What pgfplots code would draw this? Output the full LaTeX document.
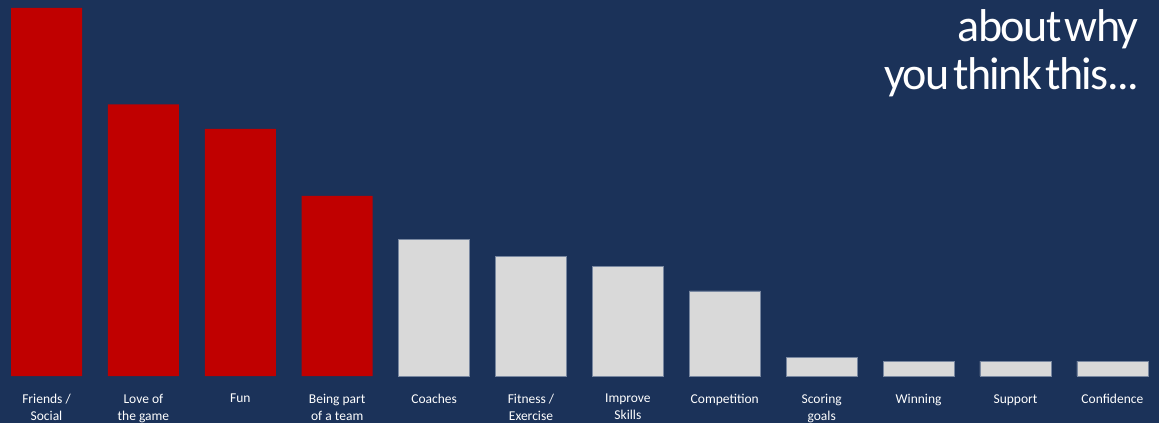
\documentclass[border=0pt]{standalone}
\usepackage{fontspec}
\setmainfont{Carlito}
\newfontfamily\titlefont[LetterSpace=-3.5,WordSpace=0.4]{Carlito}
\usepackage{pgfplots}
\pgfplotsset{compat=1.18}
\definecolor{bg}{RGB}{27,50,89}
\definecolor{barred}{RGB}{192,0,0}
\definecolor{bargrey}{RGB}{217,217,217}
\definecolor{edge}{RGB}{120,135,160}
\begin{document}
\begin{tikzpicture}
\fill[bg] (0,-47pt) rectangle (1159pt,376pt);
\begin{axis}[
  at={(0,0)}, anchor=south west,
  width=1159pt, height=376pt, scale only axis,
  xmin=-0.48, xmax=11.481, ymin=0, ymax=376,
  axis line style={draw=none}, tick style={draw=none},
  ytick=\empty,
  xtick={0,...,11},
  xticklabels={{Friends /\\Social},{Love of\\the game},{Fun},{Being part\\of a team},{Coaches},{Fitness /\\Exercise},{Improve\\Skills},{Competition},{Scoring\\goals},{Winning},{Support},{Confidence}},
  xticklabel style={align=center, text=white, font=\fontsize{13.5}{17}\selectfont, anchor=north, yshift=-10.5pt},
  ybar, bar width=71pt, bar shift=0pt,
  clip=false,
]
\addplot[fill=barred, draw=none] coordinates {(0,368) (1,271.5) (2,247) (3,180)};
\addplot[fill=bargrey, draw=edge, line width=0.5pt] coordinates {(4,136.7) (5,119.3) (6,109.3) (7,85) (8,19) (9,15) (10,15) (11,15)};
\end{axis}
\node[anchor=north east, align=right, text=white, inner sep=0pt, font=\titlefont\fontsize{46}{48}\selectfont] at (1139pt,367pt) {about why\\you think this...};
\pgfresetboundingbox
\useasboundingbox (0,-47pt) rectangle (1159pt,376pt);
\end{tikzpicture}
\end{document}
